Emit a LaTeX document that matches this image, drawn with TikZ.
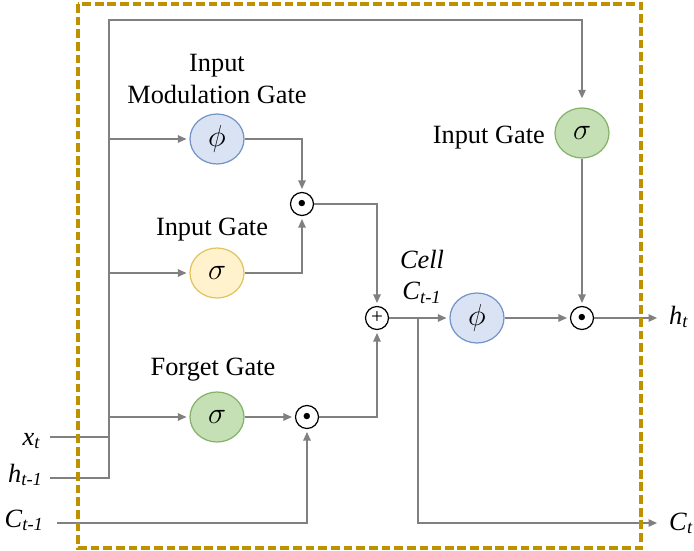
\documentclass[tikz,border=0pt]{standalone}
\usepackage{fontspec}
\setmainfont{Liberation Serif}
\usepackage{tikz}
\usetikzlibrary{shapes.geometric,arrows.meta}

\definecolor{linegray}{HTML}{808080}
\definecolor{bluefill}{HTML}{DAE3F3}
\definecolor{blueline}{HTML}{7394C8}
\definecolor{yellowfill}{HTML}{FFF2CC}
\definecolor{yellowline}{HTML}{E2C35E}
\definecolor{greenfill}{HTML}{C5E0B4}
\definecolor{greenline}{HTML}{84B26A}
\definecolor{framegold}{HTML}{BF9000}

\begin{document}
\begin{tikzpicture}[
    x=0.02cm, y=-0.02cm,
    gate/.style={ellipse, draw, line width=0.7pt, minimum width=1.08cm, minimum height=1cm, inner sep=0pt, font=\fontsize{16}{18}\selectfont},
    op/.style={circle, draw, fill=white, line width=0.7pt, minimum size=0.46cm, inner sep=0pt},
    line/.style={draw, -{Triangle[length=5pt,width=4pt]}, line width=1.3pt, color=linegray, shorten >=1.5pt},
    plain/.style={draw, line width=1.3pt, color=linegray},
    lbl/.style={font=\fontsize{15}{18}\selectfont, align=center}
]
\useasboundingbox (0,0) rectangle (694,551);

% gates
\node [gate, fill=bluefill, draw=blueline] (phimod) at (217,139) {$\phi$};
\node [gate, fill=yellowfill, draw=yellowline] (sigin) at (217,273) {$\sigma$};
\node [gate, fill=greenfill, draw=greenline] (sigf) at (217,417) {$\sigma$};
\node [gate, fill=greenfill, draw=greenline] (sigout) at (582,133) {$\sigma$};
\node [gate, fill=bluefill, draw=blueline] (phic) at (477,318) {$\phi$};

% pointwise operations
\node [op] (mulin) at (302,204) {\fontsize{9}{9}\selectfont$\bullet$};
\node [op] (add) at (377,318) {\fontsize{12}{12}\selectfont +};
\node [op] (mulf) at (307,417) {\fontsize{9}{9}\selectfont$\bullet$};
\node [op] (mulout) at (582,318) {\fontsize{9}{9}\selectfont$\bullet$};

% labels
\node [lbl] (modlbl) at (217,79) {Input\\Modulation Gate};
\node [lbl] (inlbl) at (212,230) {Input Gate};
\node [lbl] (flbl) at (213,370) {Forget Gate};
\node [lbl, anchor=east] (outlbl) at (551,138) {Input Gate};
\node [lbl] (celllbl) at (422,277) {\textit{Cell}\\\textit{C}\textsubscript{\textit{t-1}}};

% inputs and outputs
\node [lbl, anchor=base east] (xt) at (47,445) {\textit{x}\textsubscript{\textit{t}}};
\node [lbl, anchor=base east] (ht1) at (49,482) {\textit{h}\textsubscript{\textit{t-1}}};
\node [lbl, anchor=base east] (ct1) at (50,527) {\textit{C}\textsubscript{\textit{t-1}}};
\node [lbl, anchor=base west] (ht) at (663,324) {\textit{h}\textsubscript{\textit{t}}};
\node [lbl, anchor=base west] (ct) at (663,530) {\textit{C}\textsubscript{\textit{t}}};

\coordinate (xin) at (50,437);
\coordinate (hin) at (50,478);
\coordinate (cin) at (57,523);
\coordinate (trunkbot) at (109,478);
\coordinate (trunktop) at (109,20);
\coordinate (split) at (418,318);
\coordinate (htout) at (660,318);
\coordinate (ctout) at (660,523);

% connectors
\path [line, shorten >=5pt] (hin) -- (trunkbot) -- (trunktop) -| (sigout.north);
\path [plain] (xin) -- (xin -| trunktop);
\path [line] (trunktop |- phimod) -- (phimod);
\path [line] (trunktop |- sigin) -- (sigin);
\path [line] (trunktop |- sigf) -- (sigf);
\path [line] (phimod) -| (mulin);
\path [line] (sigin) -| (mulin);
\path [line] (sigf) -- (mulf);
\path [line] (cin) -| (mulf);
\path [line] (mulin) -| (add);
\path [line] (mulf) -| (add);
\path [line] (add) -- (phic);
\path [line] (split) |- (ctout);
\path [line] (phic) -- (mulout);
\path [line] (sigout) -- (mulout);
\path [line] (mulout) -- (htout);

% frame
\draw [framegold, line width=1.8pt, dash pattern=on 5pt off 2.2pt] (78,4) rectangle (641,548);

\end{tikzpicture}
\end{document}
